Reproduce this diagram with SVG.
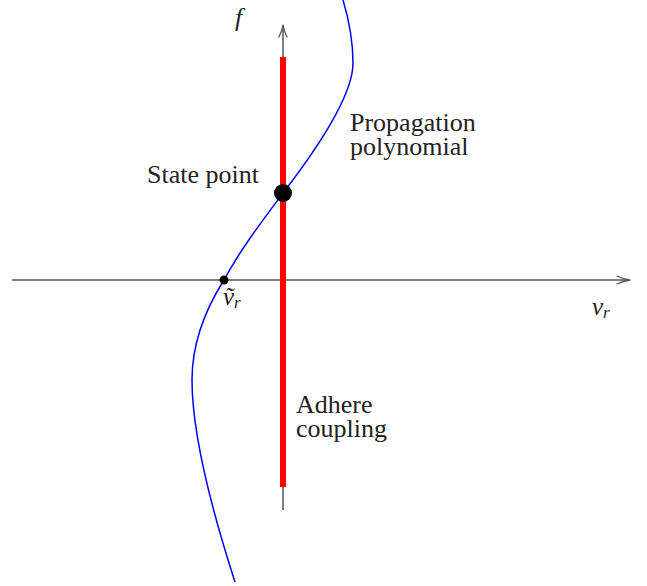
<svg xmlns="http://www.w3.org/2000/svg" width="647" height="586" viewBox="0 0 647 586">
<style>
.axis{stroke:#555;stroke-width:1.5;fill:none}
.head{stroke:#555;stroke-width:1.3;fill:none;stroke-linecap:round;stroke-linejoin:round}
text{font-family:"Liberation Serif","Times New Roman",serif;fill:#222}
.lbl{font-size:26px}
.math{font-style:italic}
</style>
<rect width="647" height="586" fill="#fff"/>
<g id="connectors">
<path class="axis" d="M12,280 H629"/>
<path class="head" d="M617,276 Q623,279 630,280 Q623,281 617,284"/>
<path class="axis" d="M283,510 V26"/>
<path class="head" d="M279,37 Q282,31 283,25 Q284,31 287,37"/>
</g>
<g id="adhere-coupling">
<line x1="283" y1="57" x2="283" y2="487" stroke="#ff0000" stroke-width="6"/>
<text class="lbl"><tspan x="296" y="413">Adhere</tspan><tspan x="296" y="437">coupling</tspan></text>
</g>
<g id="propagation-polynomial">
<path d="M343,0 C349,20 353,40 353,63 C353,95 320,145 283,193 C263,220 240,250 224,280 C205,310 192,345 192,380 C192,440 215,520 235,582" fill="none" stroke="#0000ff" stroke-width="1.5"/>
<text class="lbl"><tspan x="350" y="131">Propagation</tspan><tspan x="350" y="155">polynomial</tspan></text>
</g>
<g id="state-point">
<circle cx="283" cy="193" r="9" fill="#000"/>
<text class="lbl" x="147" y="183">State point</text>
</g>
<g id="v-tilde">
<circle cx="224" cy="280" r="4.5" fill="#000"/>
<text class="math" x="223" y="305" font-size="25">ṽ<tspan font-size="17" dy="3">r</tspan></text>
</g>
<g id="axis-labels">
<text class="math" x="235" y="26" font-size="26">f</text>
<text class="math" x="592" y="315" font-size="25">v<tspan font-size="17" dy="3">r</tspan></text>
</g>
</svg>
